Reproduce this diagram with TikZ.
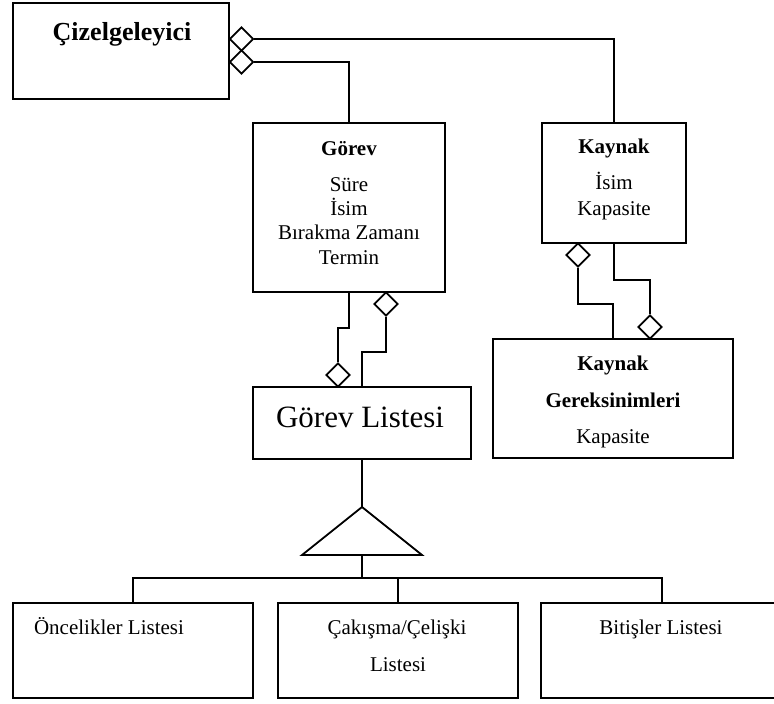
\documentclass[tikz,border=0pt]{standalone}
\usepackage{fontspec}
\setmainfont{Liberation Serif}
\usetikzlibrary{shapes.geometric}

\begin{document}
\begin{tikzpicture}[x=1pt,y=-1pt,line width=1.8pt,
  box/.style={draw,rectangle,inner sep=0pt},
  agg/.style={draw,diamond,aspect=1,minimum width=24pt,minimum height=24pt,inner sep=0pt,fill=white},
  txt/.style={inner sep=0pt,anchor=base,font=\fontsize{21}{25}\selectfont},
  btxt/.style={inner sep=0pt,anchor=base,font=\fontsize{21}{25}\selectfont\bfseries},
]
% page frame
\fill[white] (0,0) rectangle (774,704);
\clip (0,0) rectangle (774,704);

% classes
\node[box,minimum width=216pt,minimum height=96pt]  (ciz)    at (121,51)    {};
\node[box,minimum width=192pt,minimum height=169pt] (gorev)  at (349,207.5) {};
\node[box,minimum width=144pt,minimum height=120pt] (kaynak) at (614,183)   {};
\node[box,minimum width=240pt,minimum height=119pt] (kg)     at (613,398.5) {};
\node[box,minimum width=218pt,minimum height=72pt]  (gl)     at (362,423)   {};
\node[box,minimum width=240pt,minimum height=95pt]  (ol)     at (133,650.5) {};
\node[box,minimum width=240pt,minimum height=95pt]  (cl)     at (398,650.5) {};
\node[box,minimum width=242pt,minimum height=95pt]  (bl)     at (662,650.5) {};

% class texts
\node[btxt,font=\fontsize{26}{30}\selectfont\bfseries] (cizT) at (122,40) {Çizelgeleyici};

\node[btxt] (gT1) at (349,155) {Görev};
\node[txt]  (gT2) at (349,191) {Süre};
\node[txt]  (gT3) at (349,215) {İsim};
\node[txt]  (gT4) at (349,239) {Bırakma Zamanı};
\node[txt]  (gT5) at (349,264) {Termin};

\node[btxt] (kT1) at (614,153) {Kaynak};
\node[txt]  (kT2) at (614,189) {İsim};
\node[txt]  (kT3) at (614,215) {Kapasite};

\node[btxt] (kgT1) at (613,370) {Kaynak};
\node[btxt] (kgT2) at (613,407) {Gereksinimleri};
\node[txt]  (kgT3) at (613,443) {Kapasite};

\node[txt,font=\fontsize{31}{36}\selectfont] (glT) at (360,427) {Görev Listesi};

\node[txt] (olT)  at (109,634) {Öncelikler Listesi};
\node[txt] (clT1) at (397,634) {Çakışma/Çelişki};
\node[txt] (clT2) at (398,671) {Listesi};
\node[txt] (blT)  at (661,634) {Bitişler Listesi};

% aggregation diamonds
\node[agg] (d1) at (241.5,39) {};
\node[agg] (d2) at (241.5,62) {};
\node[agg] (d3) at (338,375)  {};
\node[agg] (d4) at (386,304)  {};
\node[agg] (d5) at (578,255)  {};
\node[agg] (d6) at (650,327)  {};

% associations
\draw (d1.east) -| (kaynak.north);
\draw (d2.east) -| (gorev.north);
\draw (gorev.south) -- ++(0,35) -| (d3.north);
\draw (d4.south) -- ++(0,35) -| (gl.north);
\draw (d5.south) -- ++(0,36) -| (kg.north);
\draw (kaynak.south) -- ++(0,36) -| (d6.north);

% generalisation
\coordinate (tapex)  at (362,507);
\coordinate (tleft)  at (302,555);
\coordinate (tright) at (422,555);
\coordinate (tbase)  at (362,555);
\draw (gl.south) -- (tapex);
\draw[line join=miter] (tapex) -- (tleft) -- (tright) -- cycle;
\draw (tbase) -- ++(0,23) coordinate (hub);
\draw (hub) -| (ol.north);
\draw (hub) -| (cl.north);
\draw (hub) -| (bl.north);
\end{tikzpicture}
\end{document}
